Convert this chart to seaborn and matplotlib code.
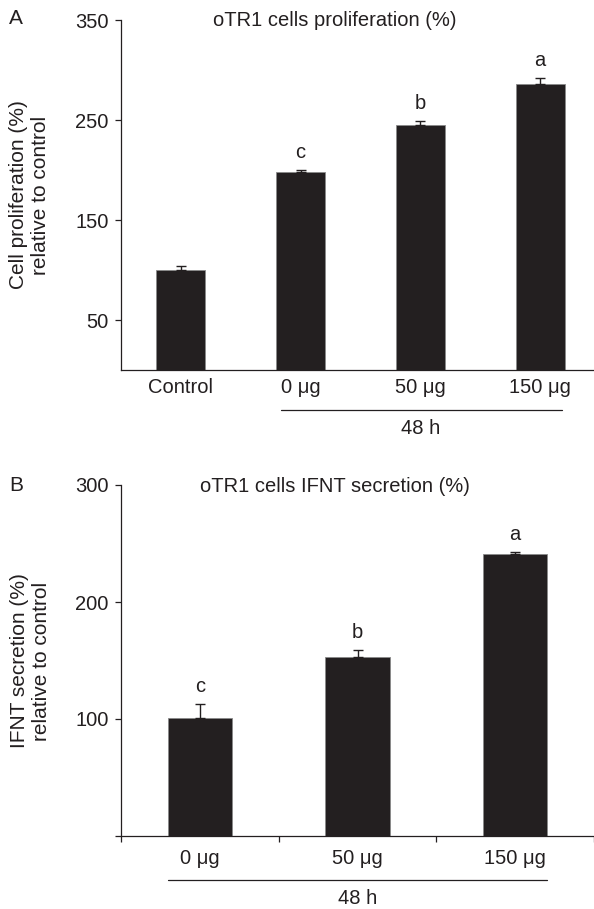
import numpy as np
import seaborn as sns
import matplotlib.pyplot as plt
from matplotlib.transforms import blended_transform_factory

sns.set_theme(style="ticks")
plt.rcParams["font.family"] = ["Liberation Sans", "DejaVu Sans"]
plt.rcParams["text.color"] = "#231f20"
plt.rcParams["axes.edgecolor"] = "#231f20"
plt.rcParams["xtick.color"] = "#231f20"
plt.rcParams["ytick.color"] = "#231f20"

# panel A: proliferation
groups_a = ["Control", "0 μg", "50 μg", "150 μg"]
prolif = [100, 198, 245, 286]
prolif_err = [4, 2, 4, 6]
letters_a = ["", "c", "b", "a"]

# panel B: IFNT secretion
groups_b = ["0 μg", "50 μg", "150 μg"]
ifnt = [101, 153, 241]
ifnt_err = [12, 6, 2]
letters_b = ["c", "b", "a"]

bar_color = "#231f20"
fs = 14.5

fig = plt.figure(figsize=(5.94, 9.09), dpi=100)
W, H = 594, 909
axA = fig.add_axes([121 / W, 1 - 370 / H, 1 - 121 / W, 350 / H])
axB = fig.add_axes([121 / W, 1 - 836 / H, 1 - 121 / W, 351 / H])


def draw_panel(ax, groups, vals, errs, letters):
    sns.barplot(x=groups, y=vals, order=groups, color=bar_color, width=0.41,
                errorbar=None, edgecolor="#8a8a8a", linewidth=0.6, ax=ax)
    for p in ax.patches:
        p.set_facecolor(bar_color)
    pos = np.arange(len(groups))
    ax.errorbar(pos, vals, yerr=[np.zeros(len(errs)), errs], fmt="none",
                ecolor=bar_color, elinewidth=1.0, capsize=3.6, capthick=1.0)
    for i, (v, e, t) in enumerate(zip(vals, errs, letters)):
        ax.annotate(t, (i, v + e), xytext=(0, 8.5), textcoords="offset points",
                    ha="center", va="baseline", fontsize=fs)
    sns.despine(ax=ax)
    for s in ("left", "bottom"):
        ax.spines[s].set_linewidth(0.9)
    ax.set_xlabel("")
    ax.set_ylabel("")
    ax.tick_params(axis="y", length=4, width=0.9, pad=5, labelsize=fs)


# ---- A ----
draw_panel(axA, groups_a, prolif, prolif_err, letters_a)
axA.set_ylim(0, 350)
axA.set_yticks([50, 150, 250, 350])
axA.set_xlim(-0.5, 3.45)
axA.tick_params(axis="x", length=0, pad=5.5, labelsize=fs)
trA = blended_transform_factory(axA.transData, axA.transAxes)
axA.plot([0.84, 3.18], [-0.114, -0.114], color=bar_color, lw=0.9,
         transform=trA, clip_on=False)
axA.text(2, -0.166, "48 h", transform=trA, ha="center", va="center", fontsize=fs)

# ---- B ----
draw_panel(axB, groups_b, ifnt, ifnt_err, letters_b)
axB.set_ylim(0, 300)
axB.set_yticks([0, 100, 200, 300])
axB.set_yticklabels(["", "100", "200", "300"])
axB.set_xlim(-0.5, 2.48)
axB.set_xticks([-0.5, 0.5, 1.5, 2.5], minor=True)
axB.tick_params(axis="x", which="major", length=0, pad=9, labelsize=fs)
axB.tick_params(axis="x", which="minor", length=4, width=0.9, direction="out")
trB = blended_transform_factory(axB.transData, axB.transAxes)
axB.plot([-0.205, 2.205], [-0.125, -0.125], color=bar_color, lw=0.9,
         transform=trB, clip_on=False)
axB.text(1, -0.177, "48 h", transform=trB, ha="center", va="center", fontsize=fs)

# titles, panel letters, y labels
fig.text(335 / W, 1 - 21 / H, "oTR1 cells proliferation (%)", ha="center",
         va="center", fontsize=fs)
fig.text(335 / W, 1 - 486 / H, "oTR1 cells IFNT secretion (%)", ha="center",
         va="center", fontsize=fs)
fig.text(16 / W, 1 - 18 / H, "A", ha="center", va="center", fontsize=15)
fig.text(16.5 / W, 1 - 485 / H, "B", ha="center", va="center", fontsize=15)
fig.text(30 / W, 1 - 195 / H, "Cell proliferation (%)\nrelative to control",
         rotation=90, ha="center", va="center", multialignment="center",
         fontsize=15)
fig.text(31 / W, 1 - 661 / H, "IFNT secretion (%)\nrelative to control",
         rotation=90, ha="center", va="center", multialignment="center",
         fontsize=15)

fig.savefig("out.png", dpi=100)
